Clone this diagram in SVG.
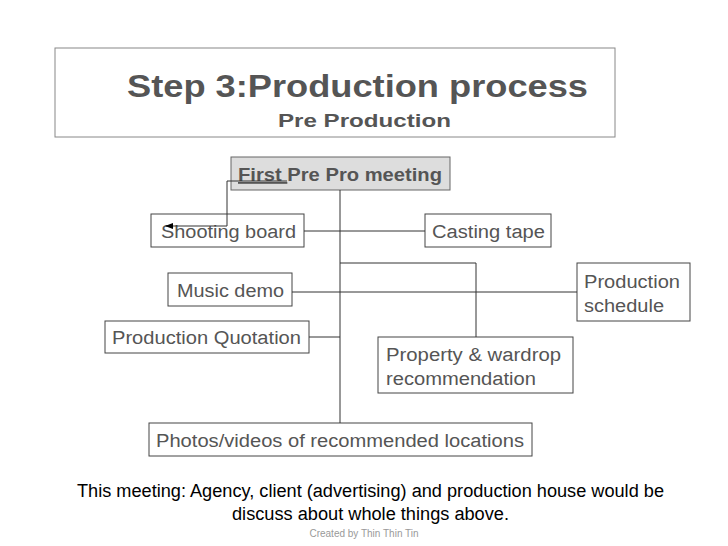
<svg xmlns="http://www.w3.org/2000/svg" width="728" height="546" viewBox="0 0 728 546">
<defs><marker id="ah" markerWidth="8" markerHeight="6" refX="7" refY="3" orient="auto" markerUnits="userSpaceOnUse"><path d="M0,0L8,3L0,6z" fill="#000"/></marker></defs>
<style>
.b{fill:#fff;stroke:#444;stroke-width:1}
.t{font-family:"Liberation Sans",Arial,sans-serif;font-size:18px;fill:#555}
.c{stroke:#333;stroke-width:1;fill:none}
</style>
<rect width="728" height="546" fill="#fff"/>
<g id="title"><rect x="55" y="48" width="560" height="89" fill="#fff" stroke="#888"/>
<text x="127" y="97" textLength="461" lengthAdjust="spacingAndGlyphs" font-family="Liberation Sans,Arial,sans-serif" font-size="31" font-weight="bold" fill="#555">Step 3:Production process</text>
<text x="278" y="127" textLength="173" lengthAdjust="spacingAndGlyphs" font-family="Liberation Sans,Arial,sans-serif" font-size="19" font-weight="bold" fill="#555">Pre Production</text></g>
<g id="n1"><rect x="231" y="157" width="219" height="33" fill="#ddd" stroke="#666"/><text class="t" x="238" y="181" textLength="204" lengthAdjust="spacingAndGlyphs" font-weight="bold"><tspan text-decoration="underline">First </tspan>Pre Pro meeting</text></g>
<g id="n2"><rect class="b" x="151" y="214" width="153" height="33"/><text class="t" x="161" y="238" textLength="135" lengthAdjust="spacingAndGlyphs">Shooting board</text></g>
<g id="n3"><rect class="b" x="425" y="214" width="126" height="33"/><text class="t" x="432" y="238" textLength="113" lengthAdjust="spacingAndGlyphs">Casting tape</text></g>
<g id="n4"><rect class="b" x="168" y="273" width="124" height="33"/><text class="t" x="177" y="297" textLength="107" lengthAdjust="spacingAndGlyphs">Music demo</text></g>
<g id="n5"><rect class="b" x="577" y="263" width="113" height="58"/><text class="t" x="584" y="288" textLength="96" lengthAdjust="spacingAndGlyphs">Production</text><text class="t" x="584" y="312" textLength="80" lengthAdjust="spacingAndGlyphs">schedule</text></g>
<g id="n6"><rect class="b" x="105" y="321" width="204" height="32"/><text class="t" x="112" y="344" textLength="189" lengthAdjust="spacingAndGlyphs">Production Quotation</text></g>
<g id="n7"><rect class="b" x="378" y="337" width="195" height="56"/><text class="t" x="386" y="361" textLength="175" lengthAdjust="spacingAndGlyphs">Property &amp; wardrop</text><text class="t" x="386" y="385" textLength="150" lengthAdjust="spacingAndGlyphs">recommendation</text></g>
<g id="n8"><rect class="b" x="149" y="423" width="383" height="33"/><text class="t" x="156" y="447" textLength="368" lengthAdjust="spacingAndGlyphs">Photos/videos of recommended locations</text></g>
<g id="connectors">
<path class="c" d="M340,190V423M304,231H425M340,263H476V337M292,292H577M309,337H340"/>
<path class="c" d="M287,181H227V226H166" marker-end="url(#ah)"/>
</g>
<text x="77" y="497" textLength="587" lengthAdjust="spacingAndGlyphs" font-family="Liberation Sans,Arial,sans-serif" font-size="18" fill="#000">This meeting: Agency, client (advertising) and production house would be</text>
<text x="232" y="520" textLength="277" lengthAdjust="spacingAndGlyphs" font-family="Liberation Sans,Arial,sans-serif" font-size="18" fill="#000">discuss about whole things above.</text>
<text x="364" y="537" text-anchor="middle" font-family="Liberation Sans,Arial,sans-serif" font-size="10" fill="#999">Created by Thin Thin Tin</text>
</svg>
